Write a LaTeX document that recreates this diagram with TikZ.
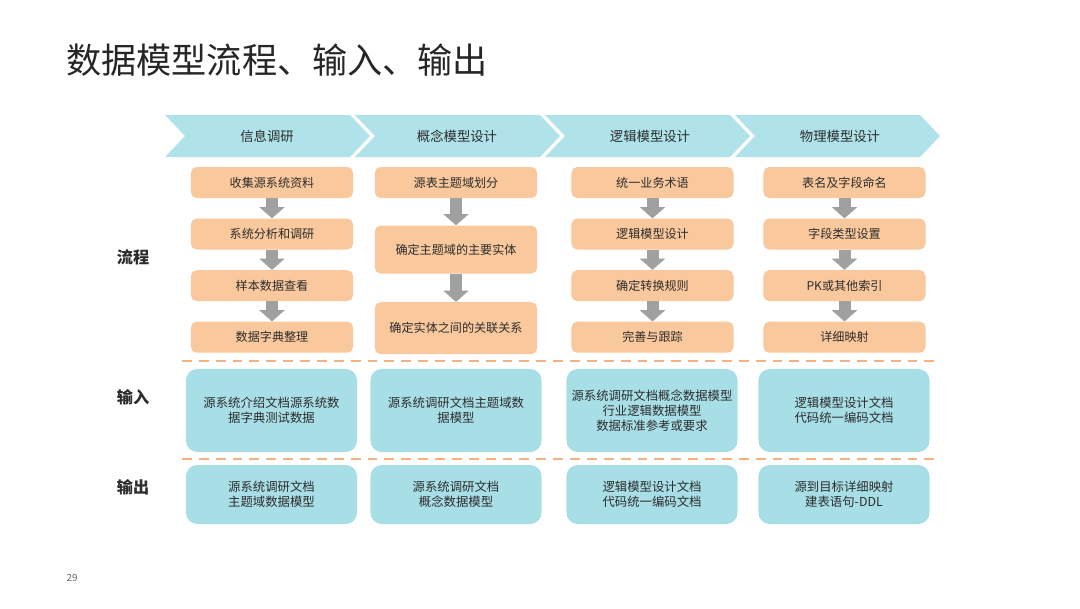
\documentclass[tikz,border=0pt]{standalone}
\usepackage{fontspec}
\setmainfont{Noto Sans CJK SC}
\usepackage{tikz}
\usetikzlibrary{arrows.meta, positioning}
\definecolor{chevcyan}{RGB}{176,226,234}
\definecolor{boxorange}{RGB}{249,200,156}
\definecolor{boxblue}{RGB}{168,222,230}
\definecolor{arrowgrey}{RGB}{160,160,160}
\definecolor{dashorange}{RGB}{244,178,128}
\definecolor{txtdark}{RGB}{45,45,45}
\tikzset{
  phase/.style={font=\fontsize{9.5}{11}\selectfont, text=txtdark},
  stepbox/.style={rectangle, fill=boxorange, rounded corners=4pt,
    minimum width=4.05cm, minimum height=0.775cm, inner sep=0pt,
    align=center, font=\fontsize{8.6}{10.5}\selectfont, text=txtdark},
  databox/.style={rectangle, fill=boxblue, rounded corners=8pt,
    minimum width=4.275cm, inner sep=0pt,
    align=center, font=\fontsize{8.8}{10.5}\selectfont, text=txtdark},
  rowlabel/.style={font=\fontsize{11.5}{13}\selectfont\bfseries, text=txtdark},
  flowarrow/.style={draw=arrowgrey, line width=0.3cm,
    -{Triangle[width=0.62cm, length=0.28cm]}},
  sepline/.style={draw=dashorange, line width=1.4pt, dash pattern=on 7pt off 5pt}
}
\begin{document}
\begin{tikzpicture}[x=0.025cm, y=-0.025cm]
  \useasboundingbox (0,0) rectangle (1080,608);

  % Title
  \node[anchor=west, font=\fontsize{25}{28}\selectfont, text=black!85, inner sep=0pt] (title) at (66,60) {数据模型流程、输入、输出};

  % Phase chevrons
  \foreach \x in {165,355,545,735}
    \fill[chevcyan] (\x,115) -- ++(185,0) -- ++(20,21) -- ++(-20,21) -- ++(-185,0) -- ++(20,-21) -- cycle;
  \node[phase] (ph1) at (267,136) {信息调研};
  \node[phase] (ph2) at (457,136) {概念模型设计};
  \node[phase] (ph3) at (650,136) {逻辑模型设计};
  \node[phase] (ph4) at (840,136) {物理模型设计};

  % Row labels
  \node[rowlabel] (lb_flow) at (133,257) {流程};
  \node[rowlabel] (lb_in) at (133,397) {输入};
  \node[rowlabel] (lb_out) at (133,487) {输出};

  % Column 1
  \node[stepbox] (c1_s1) at (272,182.5) {收集源系统资料};
  \node[stepbox, below=0.5cm of c1_s1] (c1_s2) {系统分析和调研};
  \node[stepbox, below=0.5cm of c1_s2] (c1_s3) {样本数据查看};
  \node[stepbox, below=0.5cm of c1_s3] (c1_s4) {数据字典整理};
  \draw[flowarrow] (c1_s1) -- (c1_s2);
  \draw[flowarrow] (c1_s2) -- (c1_s3);
  \draw[flowarrow] (c1_s3) -- (c1_s4);

  % Column 2
  \node[stepbox] (c2_s1) at (456,182.5) {源表主题域划分};
  \node[stepbox, minimum height=1.2cm, below=0.675cm of c2_s1] (c2_s2) {确定主题域的主要实体};
  \node[stepbox, minimum height=1.3cm, below=0.7cm of c2_s2] (c2_s3) {确定实体之间的关联关系};
  \draw[flowarrow] (c2_s1) -- (c2_s2);
  \draw[flowarrow] (c2_s2) -- (c2_s3);

  % Column 3
  \node[stepbox] (c3_s1) at (652.5,182.5) {统一业务术语};
  \node[stepbox, below=0.5cm of c3_s1] (c3_s2) {逻辑模型设计};
  \node[stepbox, below=0.5cm of c3_s2] (c3_s3) {确定转换规则};
  \node[stepbox, below=0.5cm of c3_s3] (c3_s4) {完善与跟踪};
  \draw[flowarrow] (c3_s1) -- (c3_s2);
  \draw[flowarrow] (c3_s2) -- (c3_s3);
  \draw[flowarrow] (c3_s3) -- (c3_s4);

  % Column 4
  \node[stepbox] (c4_s1) at (844.5,182.5) {表名及字段命名};
  \node[stepbox, below=0.5cm of c4_s1] (c4_s2) {字段类型设置};
  \node[stepbox, below=0.5cm of c4_s2] (c4_s3) {PK或其他索引};
  \node[stepbox, below=0.5cm of c4_s3] (c4_s4) {详细映射};
  \draw[flowarrow] (c4_s1) -- (c4_s2);
  \draw[flowarrow] (c4_s2) -- (c4_s3);
  \draw[flowarrow] (c4_s3) -- (c4_s4);

  % Separators
  \draw[sepline] (182,361) -- (937,361);
  \draw[sepline] (182,459) -- (937,459);

  % Inputs
  \node[databox, minimum height=2.075cm] (c1_in) at (271.5,410.5) {源系统介绍文档源系统数\\据字典测试数据};
  \node[databox, minimum height=2.075cm] (c2_in) at (456,410.5) {源系统调研文档主题域数\\据模型};
  \node[databox, minimum height=2.075cm] (c3_in) at (652,410.5) {源系统调研文档概念数据模型\\行业逻辑数据模型\\数据标准参考或要求};
  \node[databox, minimum height=2.075cm] (c4_in) at (844,410.5) {逻辑模型设计文档\\代码统一编码文档};

  % Outputs
  \node[databox, minimum height=1.475cm] (c1_out) at (271.5,494.5) {源系统调研文档\\主题域数据模型};
  \node[databox, minimum height=1.475cm] (c2_out) at (456,494.5) {源系统调研文档\\概念数据模型};
  \node[databox, minimum height=1.475cm] (c3_out) at (652,494.5) {逻辑模型设计文档\\代码统一编码文档};
  \node[databox, minimum height=1.475cm] (c4_out) at (844,494.5) {源到目标详细映射\\建表语句-DDL};

  % Page number
  \node[font=\fontsize{7}{8}\selectfont, text=black!60] (pgno) at (72,578) {29};
\end{tikzpicture}
\end{document}
